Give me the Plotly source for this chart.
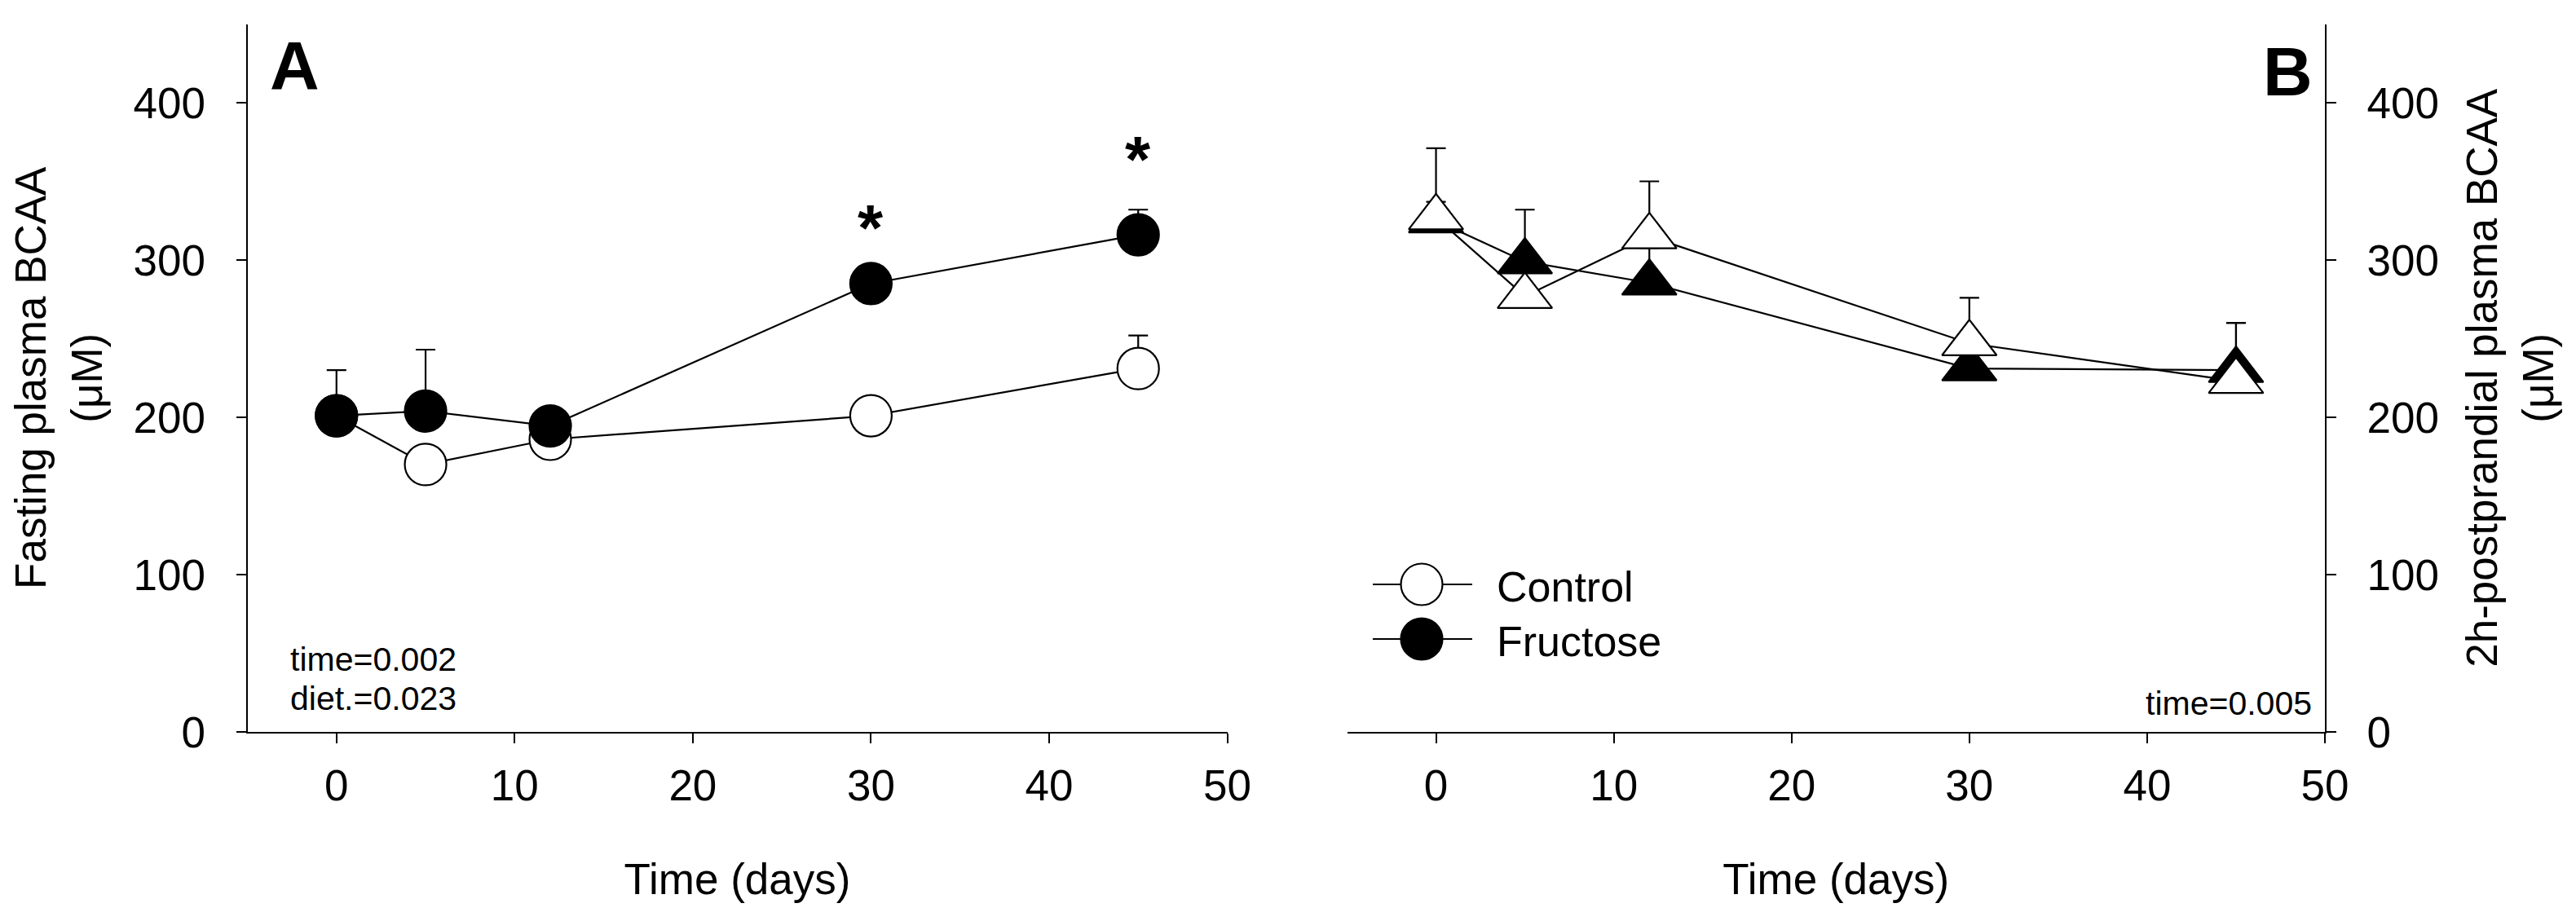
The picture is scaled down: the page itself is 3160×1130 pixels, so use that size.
import plotly.graph_objects as go

# ---------------- data ----------------
days = [0, 5, 12, 30, 45]

# Panel A: fasting plasma BCAA (µM)
fasting_control = [201, 170, 186, 201, 231]
fasting_control_sem = [10, 10, 12, 10, 21]
fasting_fructose = [201, 204, 194.5, 285, 316]
fasting_fructose_sem = [29, 39, 10, 10, 16]

# Panel B: 2h-postprandial plasma BCAA (µM)
post_control = [327, 277, 315, 247, 223]
post_control_sem = [44, 20, 35, 29, 37]
post_fructose = [325, 299, 285.5, 231, 230]
post_fructose_sem = [12, 33, 22, 18, 30]

sig_days = [30, 45]
sig_y = [327, 370.5]

x_ticks = [0, 10, 20, 30, 40, 50]
y_ticks = [0, 100, 200, 300, 400]

# ---------------- style ----------------
# the page body has an 8 px margin, so the figure is sized to fit the window
OFF = 8
W, H = 3160 - 2 * OFF, 1130 - 2 * OFF
FONT = "Liberation Sans, Arial, sans-serif"
BLACK = "#000000"


def px(xp):
    return (xp - OFF) / W


def py(yp):
    return 1 - (yp - OFF) / H


fig = go.Figure()


def add_panel(xa, ya, ctrl, ctrl_sem, fru, fru_sem, symbol, control_on_top):
    # connecting lines first (beneath all markers)
    for vals in (ctrl, fru):
        fig.add_trace(go.Scatter(x=days, y=vals, mode="lines",
                                 line=dict(color=BLACK, width=2.2),
                                 xaxis=xa, yaxis=ya, showlegend=False,
                                 hoverinfo="skip"))
    size = 51 if symbol == "circle" else 58
    ctrl_tr = go.Scatter(
        x=days, y=ctrl, mode="markers", name="Control",
        marker=dict(symbol=symbol, size=size,
                    color="white", line=dict(color=BLACK, width=2.2)),
        error_y=dict(type="data", array=ctrl_sem, symmetric=False,
                     arrayminus=[0] * len(ctrl), color=BLACK,
                     thickness=2.2, width=12),
        xaxis=xa, yaxis=ya, showlegend=False)
    fru_tr = go.Scatter(
        x=days, y=fru, mode="markers", name="Fructose",
        marker=dict(symbol=symbol, size=size,
                    color=BLACK, line=dict(color=BLACK, width=2.2)),
        error_y=dict(type="data", array=fru_sem, symmetric=False,
                     arrayminus=[0] * len(fru), color=BLACK,
                     thickness=2.2, width=12),
        xaxis=xa, yaxis=ya, showlegend=False)
    if control_on_top:
        fig.add_trace(fru_tr)
        fig.add_trace(ctrl_tr)
    else:
        fig.add_trace(ctrl_tr)
        fig.add_trace(fru_tr)


add_panel("x", "y", fasting_control, fasting_control_sem,
          fasting_fructose, fasting_fructose_sem, "circle", False)
add_panel("x2", "y2", post_control, post_control_sem,
          post_fructose, post_fructose_sem, "triangle-up", True)

tickfont = dict(family=FONT, size=53, color=BLACK)
titlefont = dict(family=FONT, size=53, color=BLACK)

common_x = dict(range=[-5, 50], tickvals=x_ticks, ticks="outside", ticklen=12,
                tickwidth=2, tickcolor=BLACK, showline=True, linewidth=2,
                linecolor=BLACK, showgrid=False, zeroline=False,
                automargin=False,
                tickfont=tickfont, ticklabelstandoff=6,
                title=dict(text="Time (days)", font=titlefont, standoff=68))
common_y = dict(range=[0, 450], tickvals=y_ticks, ticks="outside", ticklen=12,
                tickwidth=2, tickcolor=BLACK, showline=True, linewidth=2,
                linecolor=BLACK, showgrid=False, zeroline=False,
                automargin=False,
                tickfont=tickfont, ticklabelstandoff=27)

y_dom = [py(898), py(29.5)]

fig.update_layout(
    template="none",
    width=W, height=H, autosize=False,
    margin=dict(l=0, r=0, t=0, b=0, pad=0),
    paper_bgcolor="white", plot_bgcolor="white",
    font=dict(family=FONT, color=BLACK),
    showlegend=False,
    xaxis=dict(domain=[px(303.5), px(1505.5)], anchor="y", **common_x),
    yaxis=dict(domain=y_dom, anchor="x", side="left",
               title=dict(text="Fasting plasma BCAA<br>(\u03bcM)",
                          font=titlefont, standoff=35),
               **common_y),
    xaxis2=dict(domain=[px(1652.5), px(2852)], anchor="y2", **common_x),
    yaxis2=dict(domain=y_dom, anchor="x2", side="right",
                title=dict(text="2h-postprandial plasma BCAA<br>(\u03bcM)",
                           font=titlefont, standoff=35),
                **common_y),
)

ann = []
# panel letters
ann.append(dict(text="<b>A</b>", x=px(361), y=py(81), xref="paper", yref="paper",
                xanchor="center", yanchor="middle", showarrow=False,
                font=dict(family=FONT, size=84, color=BLACK)))
ann.append(dict(text="<b>B</b>", x=px(2806), y=py(88), xref="paper", yref="paper",
                xanchor="center", yanchor="middle", showarrow=False,
                font=dict(family=FONT, size=84, color=BLACK)))
# statistics notes
note_font = dict(family=FONT, size=41, color=BLACK)
ann.append(dict(text="time=0.002", x=px(354), y=py(808.8), xref="paper", yref="paper",
                xanchor="left", yanchor="middle", showarrow=False, font=note_font))
ann.append(dict(text="diet.=0.023", x=px(354), y=py(856.8), xref="paper", yref="paper",
                xanchor="left", yanchor="middle", showarrow=False, font=note_font))
ann.append(dict(text="time=0.005", x=px(2838), y=py(862.8), xref="paper", yref="paper",
                xanchor="right", yanchor="middle", showarrow=False, font=note_font))
# significance asterisks
for d, yv in zip(sig_days, sig_y):
    ann.append(dict(text="<b>*</b>", x=d, y=yv, xref="x", yref="y",
                    xanchor="center", yanchor="middle", yshift=-13, showarrow=False,
                    font=dict(family=FONT, size=80, color=BLACK)))
# legend labels
leg_font = dict(family=FONT, size=52, color=BLACK)
ann.append(dict(text="Control", x=px(1834), y=py(719.6), xref="paper", yref="paper",
                xanchor="left", yanchor="middle", showarrow=False, font=leg_font))
ann.append(dict(text="Fructose", x=px(1834), y=py(786.6), xref="paper", yref="paper",
                xanchor="left", yanchor="middle", showarrow=False, font=leg_font))

# legend keys (line + circle)
shapes = []
r_px = 25.5
for yc, fill in ((717, "white"), (784, BLACK)):
    shapes.append(dict(type="line", xref="paper", yref="paper",
                       x0=px(1684), x1=px(1806), y0=py(yc), y1=py(yc),
                       line=dict(color=BLACK, width=2.2)))
    shapes.append(dict(type="circle", xref="paper", yref="paper",
                       x0=px(1744 - r_px), x1=px(1744 + r_px),
                       y0=py(yc + r_px), y1=py(yc - r_px),
                       fillcolor=fill, line=dict(color=BLACK, width=2.2)))

fig.update_layout(annotations=ann, shapes=shapes)

fig.write_html("out.html")
